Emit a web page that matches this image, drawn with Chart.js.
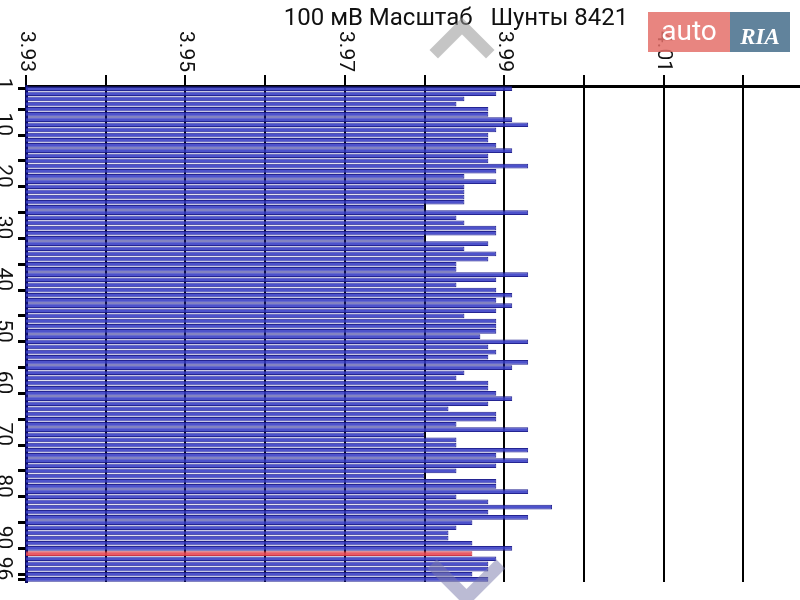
<!DOCTYPE html>
<html>
<head>
<meta charset="utf-8">
<script src="https://cdn.jsdelivr.net/npm/chart.js@4.4.1/dist/chart.umd.min.js"></script>
<style>
  html, body { margin: 0; padding: 0; background: #fff; }
  #wrap { position: relative; width: 800px; height: 600px; overflow: hidden; }
  #shunts { display: block; }
  .auto { position: absolute; left: 648px; top: 12px; width: 82px; height: 40px; background: rgba(228,112,106,0.85);
          color: #fff; font: 28px Roboto, sans-serif; line-height: 38px; text-align: center; }
  .ria { position: absolute; left: 730px; top: 12px; width: 60px; height: 40px; background: rgba(80,118,145,0.9);
         color: #fff; font: italic bold 23px "Liberation Serif", serif; line-height: 50px; text-align: center; }
  .ria small { position: absolute; right: 4px; bottom: -17px; font: 9px "Liberation Serif", serif; }
  .ria i { position: absolute; left: 28px; top: -16px; font: normal 12px "DejaVu Sans", sans-serif; }
  .chev { position: absolute; border: 0 solid rgba(150,150,150,0.55); transform: rotate(45deg); }
  .up { left: 439px; top: 27px; width: 34px; height: 34px; border-top-width: 12px; border-left-width: 12px; }
  .down { left: 439px; top: 541px; width: 42px; height: 42px; border-bottom-width: 13px; border-right-width: 13px;
          border-color: rgba(120,120,170,0.5); }
</style>
</head>
<body>
<div id="wrap">
  <canvas id="shunts" width="800" height="600"></canvas>
  <div class="chev up"></div>
  <div class="chev down"></div>
  <div class="auto">auto</div>
  <div class="ria"><i>★</i>RIA<small>.com</small></div>
</div>
<script>
const chartTitle = "100 мВ Масштаб   Шунты 8421";
// shunt numbers 1..96
const rowLabels = Array.from({ length: 96 }, (_, i) => String(i + 1));
// measured values, V
const shuntValues = [
  3.991, 3.989, 3.985, 3.984, 3.988, 3.988, 3.991, 3.993, 3.989, 3.988,
  3.988, 3.989, 3.991, 3.988, 3.988, 3.993, 3.989, 3.985, 3.989, 3.985,
  3.985, 3.985, 3.985, 3.980, 3.993, 3.984, 3.985, 3.989, 3.989, 3.980,
  3.988, 3.985, 3.989, 3.988, 3.984, 3.984, 3.993, 3.989, 3.984, 3.989,
  3.991, 3.989, 3.991, 3.989, 3.985, 3.989, 3.989, 3.989, 3.987, 3.993,
  3.988, 3.989, 3.988, 3.993, 3.991, 3.985, 3.984, 3.988, 3.988, 3.989,
  3.991, 3.988, 3.983, 3.989, 3.989, 3.984, 3.993, 3.980, 3.984, 3.984,
  3.993, 3.989, 3.993, 3.989, 3.984, 3.980, 3.989, 3.989, 3.993, 3.984,
  3.988, 3.996, 3.988, 3.993, 3.986, 3.984, 3.983, 3.983, 3.986, 3.991,
  3.986, 3.989, 3.988, 3.988, 3.986, 3.988
];
const markedRow = "91"; // red bar
const xGridValues = [3.93, 3.94, 3.95, 3.96, 3.97, 3.98, 3.99, 4.00, 4.01, 4.02];
const xTickLabels = [3.93, 3.95, 3.97, 3.99, 4.01];
const yTickMarks = [1, 5, 10, 15, 20, 25, 30, 35, 40, 45, 50, 55, 60, 65, 70, 75, 80, 85, 90, 95, 96];
const yTickLabels = [1, 10, 20, 30, 40, 50, 60, 70, 80, 90, 96];

// rotated tick labels + title (chart.js can't rotate y labels)
const axisText = {
    id: "axisText",
    afterDraw(chart) {
        const { ctx, scales: { x, y } } = chart;
        ctx.save();
        ctx.fillStyle = "#111";
        ctx.font = "21px Roboto";
        ctx.textAlign = "right";
        ctx.textBaseline = "middle";
        xTickLabels.forEach(v => {
            ctx.save();
            ctx.translate(x.getPixelForValue(v), 72);
            ctx.rotate(Math.PI / 2);
            ctx.fillText(v.toFixed(2), 0, 0);
            ctx.restore();
        });
        yTickLabels.forEach(n => {
            ctx.save();
            ctx.translate(3, y.getPixelForValue(rowLabels.indexOf(String(n))) + 1);
            ctx.rotate(Math.PI / 2);
            ctx.fillText(String(n), 0, 0);
            ctx.restore();
        });
        ctx.font = "24px Roboto";
        ctx.textAlign = "center";
        ctx.fillText(chartTitle, 456, 19);
        ctx.restore();
    }
};

new Chart(document.getElementById("shunts"), {
    type: "bar",
    data: {
        labels: rowLabels,
        datasets: [{
            data: shuntValues,
            backgroundColor: rowLabels.map(r => r === markedRow ? "rgba(232,72,85,0.9)" : "rgba(52,58,196,0.88)"),
            borderColor: rowLabels.map(r => r === markedRow ? "rgba(200,45,60,0.95)" : "rgba(24,24,140,0.95)"),
            borderWidth: 1,
            barPercentage: 0.9,
            categoryPercentage: 1
        }]
    },
    options: {
        indexAxis: "y",
        responsive: false,
        animation: false,
        layout: { padding: { top: 75, left: 18, right: 0, bottom: 18 } },
        plugins: {
            legend: { display: false },
            tooltip: { enabled: false }
        },
        scales: {
            x: {
                type: "linear",
                position: "top",
                min: 3.93,
                max: 4.0271,
                afterBuildTicks: s => { s.ticks = xGridValues.map(v => ({ value: v })); },
                ticks: { display: false },
                grid: { color: "#000", lineWidth: 2, tickLength: 11, tickColor: "#000", tickWidth: 2 },
                border: { color: "#000", width: 3 }
            },
            y: {
                ticks: { display: false, autoSkip: false },
                grid: {
                    offset: false,
                    drawOnChartArea: false,
                    tickLength: 8,
                    tickWidth: 3,
                    tickColor: c => yTickMarks.includes(c.index + 1) ? "#000" : "rgba(0,0,0,0)"
                },
                border: { color: "#0a0a5a", width: 3 }
            }
        }
    },
    plugins: [axisText]
});
</script>
</body>
</html>
